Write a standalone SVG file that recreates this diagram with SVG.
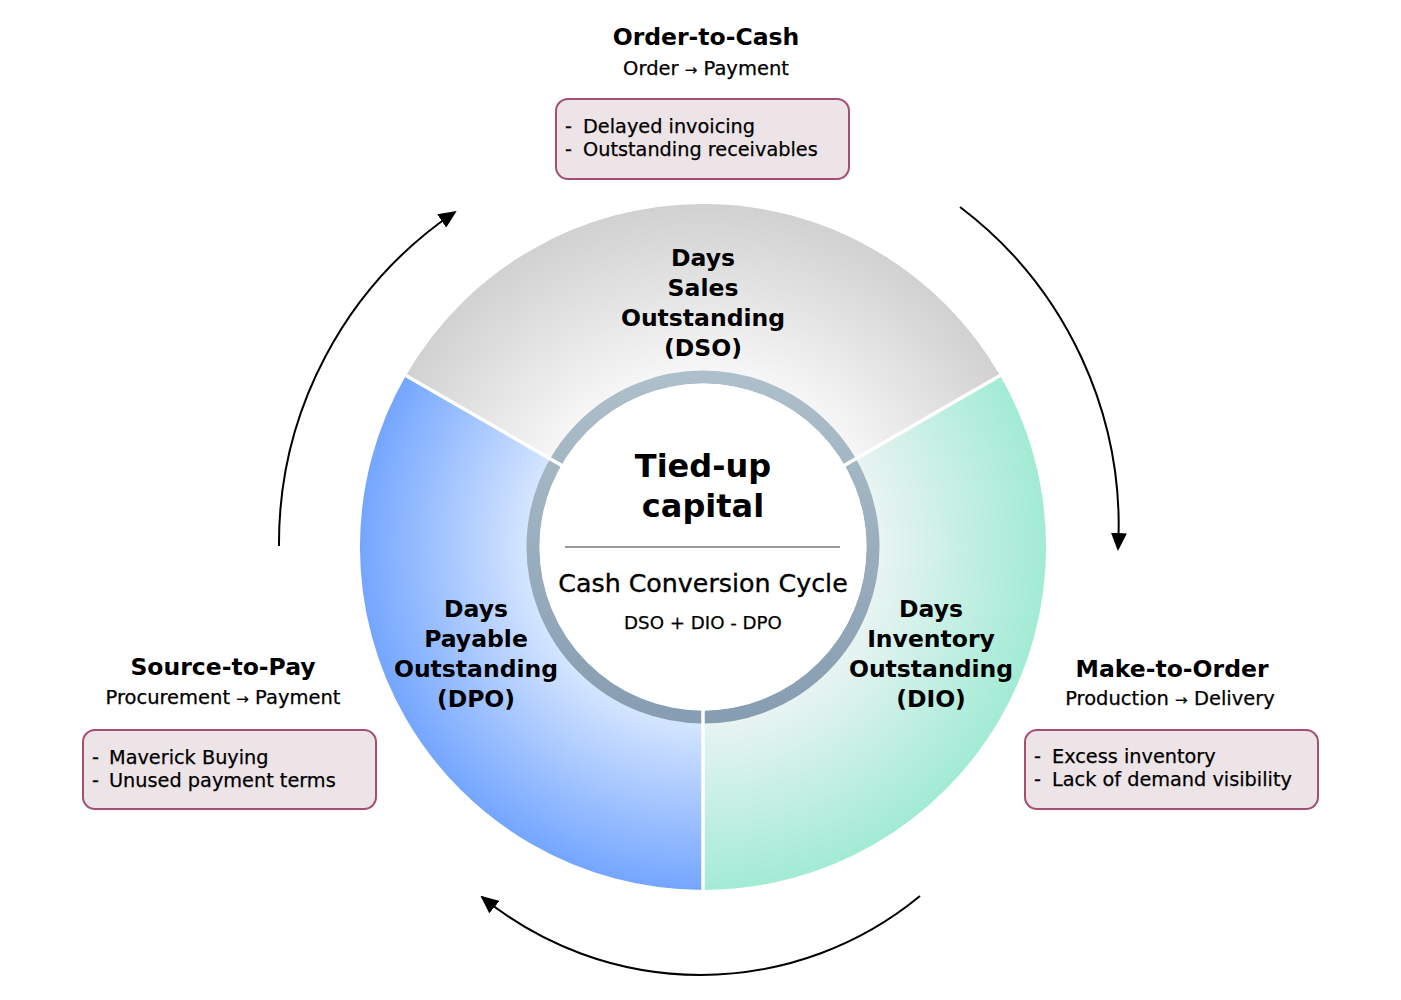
<svg xmlns="http://www.w3.org/2000/svg" width="1401" height="1000" viewBox="0 0 1401 1000">
<style>
.title{font-family:'DejaVu Sans',sans-serif;font-weight:bold;font-size:23.5px;fill:#000;text-anchor:middle}
.sub{font-family:'DejaVu Sans',sans-serif;font-size:19.5px;fill:#000;stroke:#000;stroke-width:0.25;text-anchor:middle}
.item{font-family:'DejaVu Sans',sans-serif;font-size:19.3px;fill:#000;stroke:#000;stroke-width:0.25}
.seg{font-family:'DejaVu Sans',sans-serif;font-weight:bold;font-size:23.5px;fill:#000;text-anchor:middle}
.arr{font-size:15px}
.box{fill:#ede4e8;stroke:#a64d73;stroke-width:2}
.arc{fill:none;stroke:#000;stroke-width:2}
.sep{stroke:#fff;stroke-width:3.5}
</style>
<defs>
<radialGradient id="gDSO" gradientUnits="userSpaceOnUse" cx="703" cy="547" r="343">
<stop offset="0.5" stop-color="#f7f7f7"/><stop offset="1" stop-color="#d1d1d1"/>
</radialGradient>
<radialGradient id="gDPO" gradientUnits="userSpaceOnUse" cx="703" cy="547" r="343">
<stop offset="0.52" stop-color="#d3e4ff"/><stop offset="1" stop-color="#74a6ff"/>
</radialGradient>
<radialGradient id="gDIO" gradientUnits="userSpaceOnUse" cx="703" cy="547" r="343">
<stop offset="0.5" stop-color="#eaf4f2"/><stop offset="1" stop-color="#a2ebd4"/>
</radialGradient>
<linearGradient id="gBand" x1="0" y1="0" x2="0" y2="1">
<stop offset="0" stop-color="#adbfca"/><stop offset="1" stop-color="#879db1"/>
</linearGradient>
<marker id="ah" markerUnits="userSpaceOnUse" markerWidth="18" markerHeight="16" viewBox="0 0 18 16" refX="16" refY="8" orient="auto">
<path d="M0,0 L18,8 L0,16 z" fill="#000"/>
</marker>
</defs>
<rect width="1401" height="1000" fill="#fff"/>

<g id="ring">
<g id="seg-dso">
<path d="M703,547 L405.9,375.5 A343,343 0 0 1 1000.1,375.5 Z" fill="url(#gDSO)"/>
</g>
<g id="seg-dio">
<path d="M703,547 L1000.1,375.5 A343,343 0 0 1 703,890 Z" fill="url(#gDIO)"/>
</g>
<g id="seg-dpo">
<path d="M703,547 L703,890 A343,343 0 0 1 405.9,375.5 Z" fill="url(#gDPO)"/>
</g>
<circle cx="703" cy="547" r="170" fill="none" stroke="url(#gBand)" stroke-width="13"/>
<line class="sep" x1="703" y1="547" x2="405.9" y2="375.5"/>
<line class="sep" x1="703" y1="547" x2="1000.1" y2="375.5"/>
<line class="sep" x1="703" y1="547" x2="703" y2="891"/>
</g>

<g id="center">
<circle cx="703" cy="547" r="163.5" fill="#fff"/>
<text class="seg" x="703" y="477" style="font-size:32px">Tied-up</text>
<text class="seg" x="703" y="517" style="font-size:32px">capital</text>
<line x1="565" y1="547" x2="840" y2="547" stroke="#7a7a7a" stroke-width="1.5"/>
<text class="sub" x="703" y="592" style="font-size:25.3px;stroke-width:0.35">Cash Conversion Cycle</text>
<text class="sub" x="703" y="629" style="font-size:18.2px">DSO + DIO - DPO</text>
</g>

<g id="label-dso">
<text class="seg" x="703" y="266">Days</text>
<text class="seg" x="703" y="296">Sales</text>
<text class="seg" x="703" y="326">Outstanding</text>
<text class="seg" x="703" y="356">(DSO)</text>
</g>
<g id="label-dpo">
<text class="seg" x="476" y="617">Days</text>
<text class="seg" x="476" y="647">Payable</text>
<text class="seg" x="476" y="677">Outstanding</text>
<text class="seg" x="476" y="707">(DPO)</text>
</g>
<g id="label-dio">
<text class="seg" x="931" y="617">Days</text>
<text class="seg" x="931" y="647">Inventory</text>
<text class="seg" x="931" y="677">Outstanding</text>
<text class="seg" x="931" y="707">(DIO)</text>
</g>

<g id="order-to-cash">
<text class="title" x="706" y="45">Order-to-Cash</text>
<text class="sub" x="706" y="75">Order <tspan class="arr">→</tspan> Payment</text>
<rect class="box" x="556" y="99" width="293" height="80" rx="12"/>
<text class="item" x="565" y="133">-</text><text class="item" x="583" y="133">Delayed invoicing</text>
<text class="item" x="565" y="156">-</text><text class="item" x="583" y="156">Outstanding receivables</text>
</g>

<g id="source-to-pay">
<text class="title" x="223" y="675">Source-to-Pay</text>
<text class="sub" x="223" y="704">Procurement <tspan class="arr">→</tspan> Payment</text>
<rect class="box" x="83" y="730" width="293" height="79" rx="12"/>
<text class="item" x="92" y="764">-</text><text class="item" x="109" y="764">Maverick Buying</text>
<text class="item" x="92" y="787">-</text><text class="item" x="109" y="787">Unused payment terms</text>
</g>

<g id="make-to-order">
<text class="title" x="1172" y="677">Make-to-Order</text>
<text class="sub" x="1170" y="705">Production <tspan class="arr">→</tspan> Delivery</text>
<rect class="box" x="1025" y="730" width="293" height="79" rx="12"/>
<text class="item" x="1034" y="763">-</text><text class="item" x="1052" y="763">Excess inventory</text>
<text class="item" x="1034" y="786">-</text><text class="item" x="1052" y="786">Lack of demand visibility</text>
</g>

<g id="connectors">
<path class="arc" d="M279,546 A400,400 0 0 1 455,212" marker-end="url(#ah)"/>
<path class="arc" d="M960,207 A400,400 0 0 1 1118,549" marker-end="url(#ah)"/>
<path class="arc" d="M920,896 A345,345 0 0 1 482,897" marker-end="url(#ah)"/>
</g>
</svg>
